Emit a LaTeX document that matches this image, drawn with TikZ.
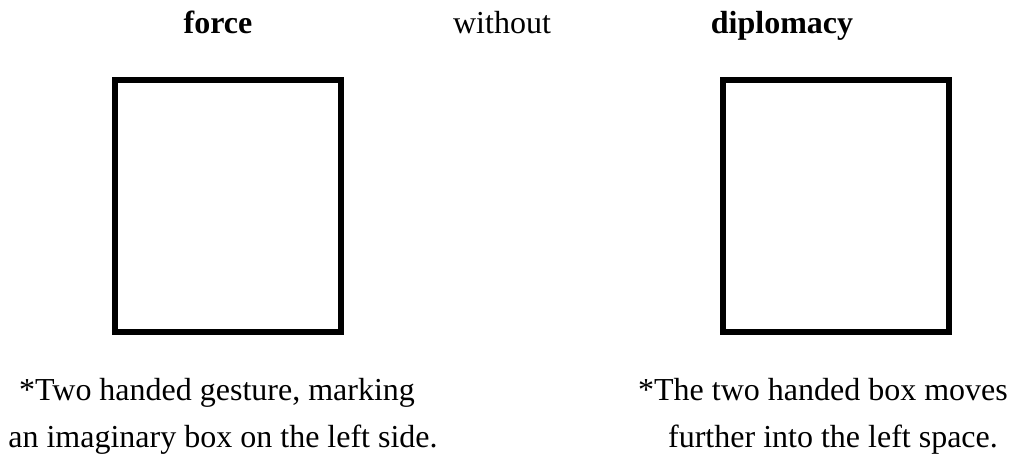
\documentclass[tikz,border=0pt]{standalone}
\usepackage{fontspec}
\setmainfont{Liberation Serif}
\usepackage{tikz}
\usetikzlibrary{positioning}

\begin{document}
\begin{tikzpicture}[x=1pt, y=1pt,
    gesturebox/.style={rectangle, draw=black, line width=3pt, minimum width=113pt, minimum height=126pt, inner sep=0pt},
    heading/.style={anchor=base, inner sep=0pt, font=\fontsize{16}{19}\selectfont},
    caption/.style={anchor=base, inner sep=0pt, font=\fontsize{16}{19}\selectfont}
]
    \useasboundingbox (0,0) rectangle (506.5,231.5);

    % headings
    \node [heading] (force) at (109,215) {\textbf{force}};
    \node [heading] (without) at (251,215) {without};
    \node [heading] (diplomacy) at (391,215) {\textbf{diplomacy}};

    % the two imaginary boxes
    \node [gesturebox] (leftbox) at (114,128.5) {};
    \node [gesturebox] (rightbox) at (418,128.5) {};

    % notes under the boxes
    \node [caption] (noteLa) at (108.5,31.5) {*Two handed gesture, marking};
    \node [caption] (noteLb) at (111.5,8) {an imaginary box on the left side.};
    \node [caption] (noteRa) at (411.5,31.5) {*The two handed box moves};
    \node [caption] (noteRb) at (416.5,8) {further into the left space.};
\end{tikzpicture}
\end{document}
